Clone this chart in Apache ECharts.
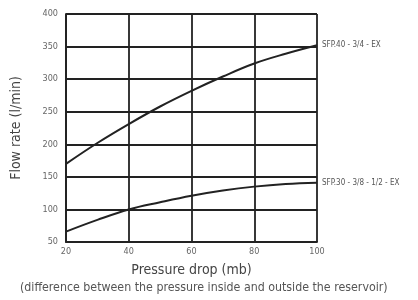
<!DOCTYPE html>
<html><head><meta charset="utf-8">
<script src="https://cdn.jsdelivr.net/npm/echarts@6/dist/echarts.min.js"></script>
<style>html,body{margin:0;padding:0;background:#fff}#c{width:418px;height:300px}</style>
</head><body><div id="c"></div>
<script>
const pressure = [20, 30, 40, 50, 60, 70, 80, 90, 100];
const sfp40 = [170, 202, 231, 258, 282, 304, 324, 339, 352];
const sfp30 = [66, 84, 100, 111, 121, 129, 135, 139, 141];
const seriesNames = ['SFP.40 - 3/4 - EX', 'SFP.30 - 3/8 - 1/2 - EX'];
const yTicks = [50, 100, 150, 200, 250, 300, 350, 400];
const xTicks = [20, 40, 60, 80, 100];
const F = '"Liberation Sans Narrow","DejaVu Sans Condensed","Liberation Sans",sans-serif';
const chart = echarts.init(document.getElementById('c'));
const mk = (name, vals) => ({
  type: 'line', name, smooth: 0.4, symbol: 'none',
  data: pressure.map((p, i) => [p, vals[i]]),
  lineStyle: {color: '#222', width: 2},
  endLabel: {show: true, formatter: name, color: '#555', fontSize: 8, fontFamily: F, distance: 5}
});
chart.setOption({
  animation: false,
  grid: {left: 66, right: 101, top: 14, bottom: 58},
  xAxis: {
    type: 'value', min: 20, max: 100, interval: 20,
    axisLine: {lineStyle: {color: '#222', width: 1.8}},
    axisTick: {show: false},
    splitLine: {lineStyle: {color: '#222', width: 1.8}},
    axisLabel: {color: '#666', fontSize: 9, fontFamily: F, margin: 5},
    name: 'Pressure drop (mb)', nameLocation: 'middle', nameGap: 21,
    nameTextStyle: {color: '#444', fontSize: 14, fontFamily: F}
  },
  yAxis: {
    type: 'value', min: 50, max: 400, interval: 50,
    axisLine: {show: true, lineStyle: {color: '#222', width: 1.8}},
    axisTick: {show: false},
    splitLine: {lineStyle: {color: '#222', width: 1.8}},
    axisLabel: {color: '#666', fontSize: 9, fontFamily: F, margin: 8},
    name: 'Flow rate (l/min)', nameLocation: 'middle', nameGap: 43,
    nameTextStyle: {color: '#444', fontSize: 14, fontFamily: F}
  },
  graphic: [{
    type: 'text', left: 20, top: 282,
    style: {text: '(difference between the pressure inside and outside the reservoir)', fill: '#555', fontSize: 12.3, fontFamily: F}
  }],
  series: [mk(seriesNames[0], sfp40), mk(seriesNames[1], sfp30)]
});
</script></body></html>
